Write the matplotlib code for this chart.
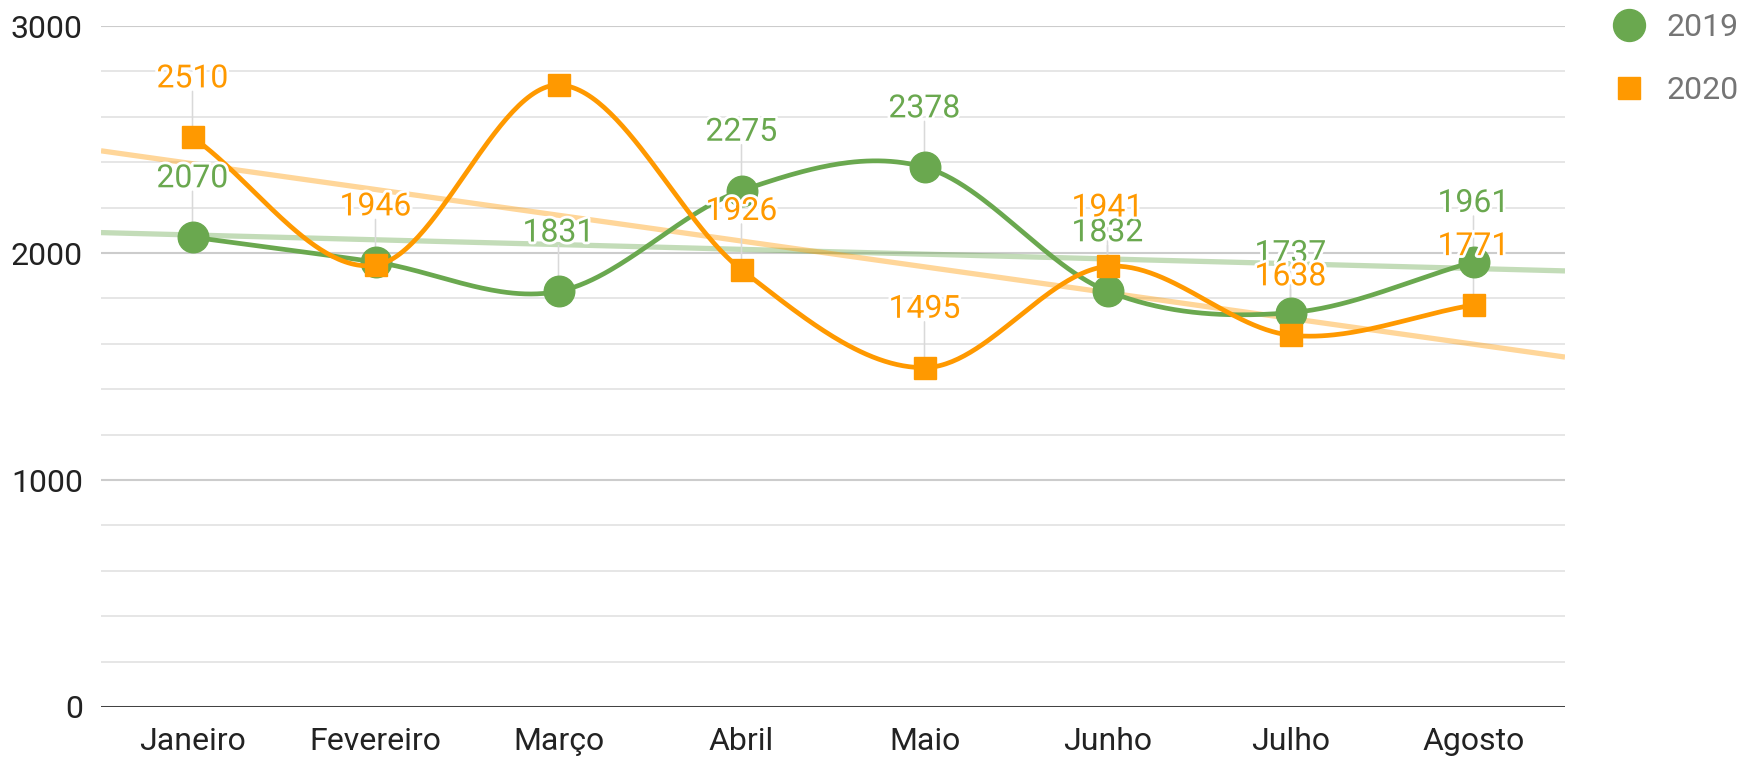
import numpy as np
import matplotlib
matplotlib.use("Agg")
import matplotlib.pyplot as plt
import matplotlib.patheffects as pe
from matplotlib.lines import Line2D

plt.rcParams['font.family'] = ['Roboto', 'DejaVu Sans']

# ---- data ----
months = ["Janeiro", "Fevereiro", "Março", "Abril", "Maio", "Junho", "Julho", "Agosto"]
series_names = ["2019", "2020"]
values_2019 = [2070, 1960, 1831, 2275, 2378, 1832, 1737, 1961]
values_2020 = [2510, 1946, 2740, 1926, 1495, 1941, 1638, 1771]
# which data labels are displayed (others hidden by collision in the original)
show_2019 = [True, False, True, True, True, True, True, True]
show_2020 = [True, True, False, True, True, True, True, True]
y_major = [0, 1000, 2000, 3000]

GREEN = "#6aa84f"
ORANGE = "#ff9900"


def smooth(y, n=60):
    y = np.asarray(y, float)
    m = np.zeros_like(y)
    m[1:-1] = (y[2:] - y[:-2]) / 2.0
    m[0] = y[1] - y[0]
    m[-1] = y[-1] - y[-2]
    xs, ys = [], []
    for i in range(len(y) - 1):
        t = np.linspace(0, 1, n, endpoint=(i == len(y) - 2))
        h00 = 2 * t**3 - 3 * t**2 + 1
        h10 = t**3 - 2 * t**2 + t
        h01 = -2 * t**3 + 3 * t**2
        h11 = t**3 - t**2
        ys.append(h00 * y[i] + h10 * m[i] + h01 * y[i + 1] + h11 * m[i + 1])
        xs.append(i + t)
    return np.concatenate(xs), np.concatenate(ys)


fig = plt.figure(figsize=(17.57, 7.59), dpi=100)
ax = fig.add_axes([101 / 1757, 1 - 707 / 759, (1565 - 101) / 1757, (707 - 26) / 759])

x = np.arange(len(months))
ax.set_xlim(-0.5, len(months) - 0.5)
ax.set_ylim(0, 3000)

# gridlines
ax.set_yticks(y_major)
ax.set_yticks(np.arange(0, 3001, 200), minor=True)
ax.grid(True, which='major', axis='y', color='#cccccc', lw=1.5, zorder=0)
ax.grid(True, which='minor', axis='y', color='#e6e6e6', lw=1.4, zorder=0)
ax.grid(False, axis='x')
ax.set_axisbelow(True)
for s in ax.spines.values():
    s.set_visible(False)
ax.axhline(0, color='#333333', lw=2.0, zorder=1.2)

ax.set_xticks(x)
ax.set_xticklabels(months)
ax.tick_params(axis='x', which='both', length=0, pad=14.5, labelsize=23, labelcolor='#222222')
ax.tick_params(axis='y', which='both', length=0, pad=13, labelsize=23, labelcolor='#222222')

# trendlines
xt = np.array([-0.5, len(months) - 0.5])
for vals, col in [(values_2019, GREEN), (values_2020, ORANGE)]:
    k, b = np.polyfit(x, vals, 1)
    ax.plot(xt, k * xt + b, color=col, alpha=0.4, lw=3.8, solid_capstyle='butt', zorder=1.5)

# series
specs = [(values_2019, show_2019, GREEN, 'o', 22), (values_2020, show_2020, ORANGE, 's', 16.5)]
for z, (vals, show, col, mk, ms) in enumerate(specs):
    sx, sy = smooth(vals)
    ax.plot(sx, sy, color=col, lw=3.4, zorder=3 + z * 2, solid_capstyle='round')
    ax.plot(x, vals, linestyle='none', marker=mk, ms=ms, color=col, mec=col, zorder=3.5 + z * 2)

# data labels with stems
for vals, show, col, mk, ms in specs:
    for xi, v, s in zip(x, vals, show):
        if not s:
            continue
        ax.annotate("", xy=(xi, v), xytext=(0, 33), textcoords='offset points',
                    arrowprops=dict(arrowstyle='-', color='#d9d9d9', lw=1.1,
                                    shrinkA=0, shrinkB=0), zorder=2)
        ax.annotate(str(v), xy=(xi, v), xytext=(0, 42), textcoords='offset points',
                    ha='center', va='center', fontsize=23, color=col, zorder=10,
                    annotation_clip=False,
                    path_effects=[pe.withStroke(linewidth=4, foreground='white')])

# legend
handles = [Line2D([], [], linestyle='none', marker='o', ms=23, color=GREEN),
           Line2D([], [], linestyle='none', marker='s', ms=16.5, color=ORANGE)]
leg = fig.legend(handles, series_names, loc='upper left',
                 bbox_to_anchor=(1613 / 1757, 1 - 13 / 759), frameon=False,
                 fontsize=23, handlelength=1.0, handletextpad=0.67,
                 labelspacing=1.07, borderpad=0, borderaxespad=0)
for t in leg.get_texts():
    t.set_color('#757575')

fig.savefig("out.png", dpi=100, facecolor='white')
